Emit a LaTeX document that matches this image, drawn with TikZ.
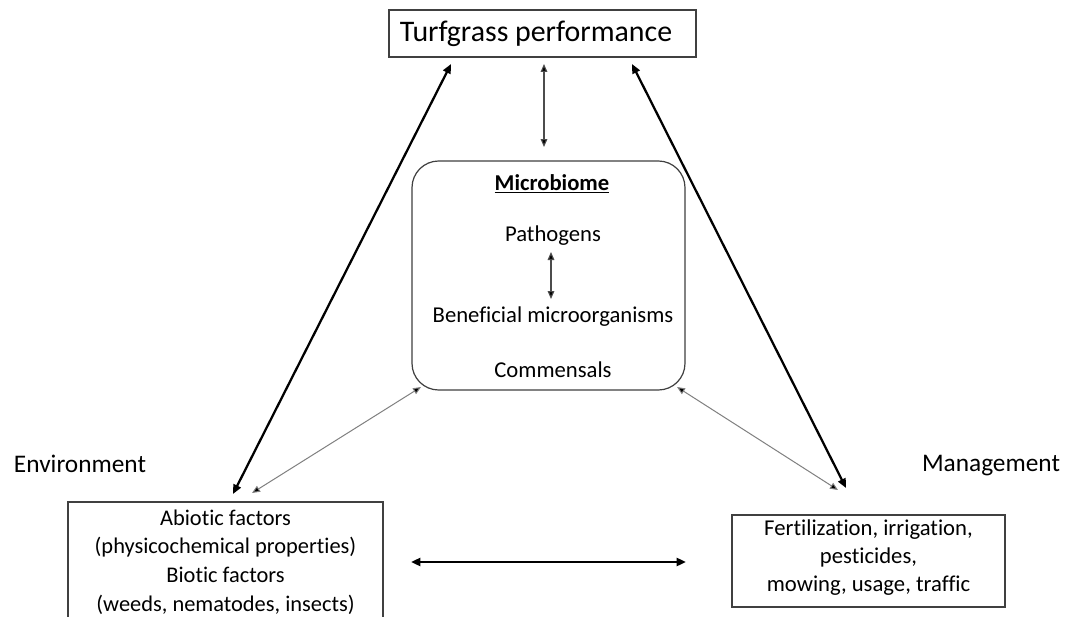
\documentclass[tikz,border=0pt]{standalone}
\usepackage{fontspec}
\setmainfont{Carlito}[Ligatures=NoCommon]
\usetikzlibrary{arrows.meta}
\begin{document}
\begin{tikzpicture}[x=0.75pt,y=-0.75pt,
  box/.style={draw=black!75,line width=0.9pt,inner sep=0pt,align=center},
  lbl/.style={inner sep=0pt,align=center,font=\fontsize{17}{20}\selectfont},
  side/.style={inner sep=0pt,align=center,font=\fontsize{19}{22}\selectfont},
  thickarr/.style={line width=1.7pt,{Triangle[length=7pt,width=6pt]}-{Triangle[length=7pt,width=6pt]}},
  thinarr/.style={draw=black!50,line width=0.75pt,{Triangle[length=6pt,width=5pt,fill=black]}-{Triangle[length=6pt,width=5pt,fill=black]}},
  midarr/.style={draw=black!70,line width=0.8pt,{Triangle[length=6pt,width=5pt,fill=black]}-{Triangle[length=6pt,width=5pt,fill=black]}}]
\useasboundingbox (0,0) rectangle (1078,617);
\fill[white] (0,0) rectangle (1078,617);

\node[box,minimum width=307*0.75pt,minimum height=47*0.75pt] (top) at (542.5,33.5) {};
\node[inner sep=0pt,font=\fontsize{22.4}{26}\selectfont] (toptxt) at (536,33.5) {Turfgrass performance};

\node[box,rounded corners=20pt,minimum width=273*0.75pt,minimum height=229*0.75pt] (mic) at (548.5,275.5) {};
\node[lbl,font=\fontsize{17}{20}\selectfont] (mtitle) at (552,184) {\underline{\textbf{Microbiome}}};
\node[lbl] (path) at (553,236) {Pathogens};
\node[lbl] (bene) at (553,317) {Beneficial microorganisms};
\node[lbl] (comm) at (553,370) {Commensals};

\node[side] (env) at (80,464) {Environment};
\node[side] (man) at (991,466) {Management};

\node[box,minimum width=315*0.75pt,minimum height=130*0.75pt] (envbox) at (225.5,567) {};
\node[inner sep=0pt,align=center,font=\fontsize{16.8}{21.5}\selectfont] (envtxt) at (225.5,562) {Abiotic factors\\(physicochemical properties)\\Biotic factors\\(weeds, nematodes, insects)};

\node[box,minimum width=273*0.75pt,minimum height=92*0.75pt] (manbox) at (868.5,561) {};
\node[inner sep=0pt,align=center,font=\fontsize{17}{21}\selectfont] (mantxt) at (868.5,557.5) {Fertilization, irrigation,\\pesticides,\\mowing, usage, traffic};

\coordinate (tl) at (451,64);
\coordinate (tr) at (632,64);
\coordinate (tm) at (544,64);
\coordinate (mt) at (544,147);
\coordinate (el) at (233,494);
\coordinate (eg) at (252,493);
\coordinate (mgl) at (421,387);
\coordinate (mgr) at (677,387);
\coordinate (mrg) at (838,490);
\coordinate (mr) at (846,488);
\coordinate (pb) at (551,252);
\coordinate (bt) at (551,299);
\coordinate (hl) at (411,562);
\coordinate (hr) at (686,562);

\draw[thickarr] (tl) -- (el);
\draw[thickarr] (tr) -- (mr);
\draw[midarr] (tm) -- (mt);
\draw[midarr] (pb) -- (bt);
\draw[thinarr] (eg) -- (mgl);
\draw[thinarr] (mgr) -- (mrg);
\draw[thickarr] (hl) -- (hr);
\end{tikzpicture}
\end{document}
